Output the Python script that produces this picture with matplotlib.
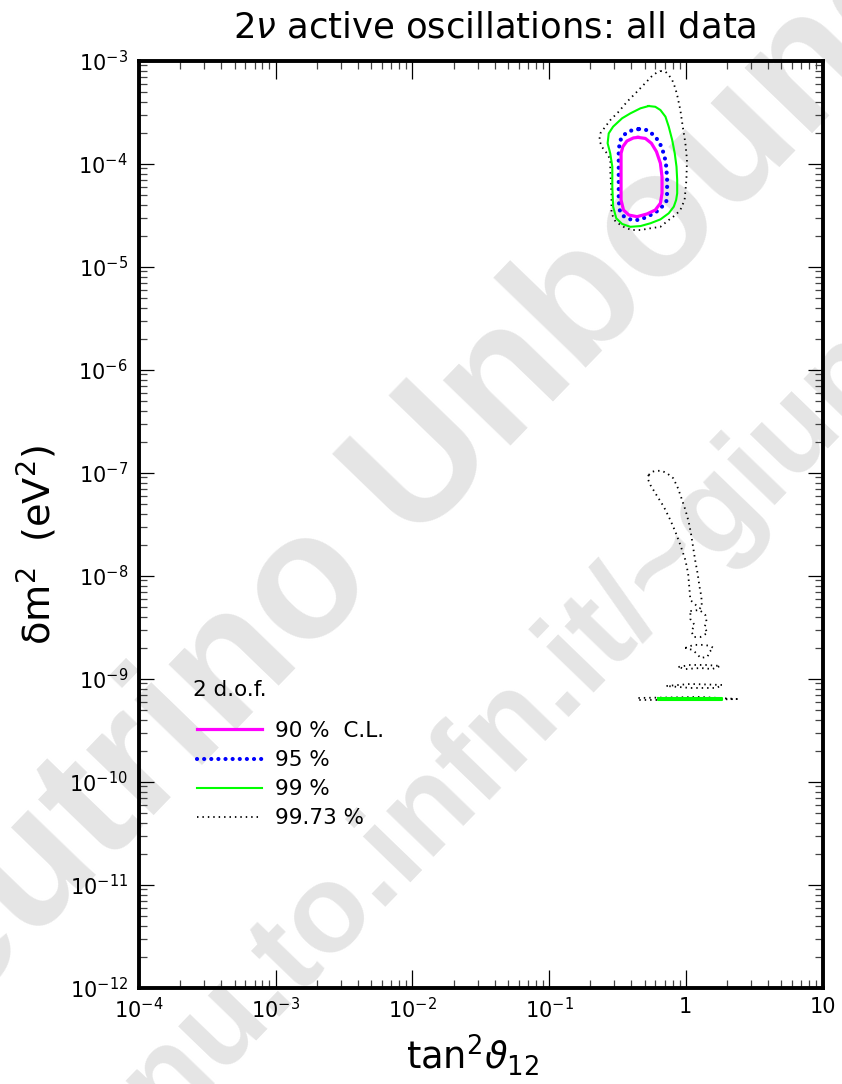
import numpy as np
import matplotlib
matplotlib.use('Agg')
import matplotlib.pyplot as plt
from matplotlib.lines import Line2D

plt.rcParams['font.family'] = ['DejaVu Sans']
plt.rcParams['mathtext.fontset'] = 'dejavusans'

# --- allowed regions in the (tan^2 theta12, delta m^2) plane ---

# 90% C.L.
tan2_90 = [0.447, 0.506, 0.56, 0.61, 0.652, 0.67, 0.67, 0.652, 0.598, 0.52,
           0.44, 0.384, 0.35, 0.336, 0.336, 0.336, 0.346, 0.371, 0.414, 0.447]
dm2_90 = [1.80e-4, 1.76e-4, 1.58e-4, 1.31e-4, 1.01e-4, 7.48e-5, 5.16e-5, 4.13e-5, 3.55e-5, 3.25e-5,
          3.06e-5, 3.17e-5, 3.55e-5, 4.45e-5, 7.5e-5, 1.26e-4, 1.46e-4, 1.66e-4, 1.78e-4, 1.80e-4]

# 95% C.L.
tan2_95 = [0.455, 0.52, 0.582, 0.637, 0.67, 0.70, 0.72, 0.73, 0.73, 0.72, 0.67, 0.61,
           0.551, 0.49, 0.44, 0.393, 0.35, 0.328, 0.323, 0.323, 0.323, 0.328, 0.35, 0.405, 0.455]
dm2_95 = [2.17e-4, 2.12e-4, 1.90e-4, 1.64e-4, 1.41e-4, 1.17e-4, 9.35e-5, 6.95e-5, 5.16e-5, 4.28e-5, 3.83e-5, 3.42e-5,
          3.17e-5, 2.95e-5, 2.84e-5, 2.88e-5, 3.10e-5, 3.55e-5, 4.45e-5, 7.48e-5, 1.26e-4, 1.64e-4, 1.90e-4, 2.12e-4, 2.17e-4]

# 99% C.L.
tan2_99 = [0.535, 0.598, 0.652, 0.71, 0.75, 0.795, 0.83, 0.855, 0.865, 0.865, 0.85, 0.817, 0.75, 0.652,
           0.551, 0.466, 0.393, 0.342, 0.31, 0.294, 0.29, 0.29, 0.28, 0.268, 0.273, 0.294, 0.342, 0.393, 0.466, 0.535]
dm2_99 = [3.63e-4, 3.57e-4, 3.32e-4, 2.86e-4, 2.29e-4, 1.70e-4, 1.26e-4, 9.35e-5, 6.95e-5, 5.16e-5, 4.45e-5, 3.83e-5, 3.30e-5, 2.88e-5,
          2.64e-5, 2.48e-5, 2.44e-5, 2.60e-5, 2.95e-5, 3.83e-5, 5.98e-5, 9.35e-5, 1.26e-4, 1.58e-4, 1.97e-4, 2.29e-4, 2.76e-4, 3.08e-4, 3.45e-4, 3.63e-4]
# 99% C.L., thin strip at low delta m^2
tan2_99_low = [0.63, 1.85, 1.85, 0.63, 0.63]
dm2_99_low = [6.5e-10, 6.5e-10, 6.22e-10, 6.22e-10, 6.5e-10]

# 99.73% C.L.: LMA region
tan2_3s_lma = [0.652, 0.71, 0.75, 0.795, 0.839, 0.87, 0.912, 0.95, 0.993, 1.02, 1.01, 0.98, 0.912, 0.839, 0.75,
               0.652, 0.551, 0.466, 0.40, 0.35, 0.306, 0.286, 0.286, 0.28, 0.281, 0.265, 0.243, 0.233, 0.237,
               0.258, 0.281, 0.323, 0.372, 0.428, 0.49, 0.56, 0.61, 0.652]
dm2_3s_lma = [7.94e-4, 7.82e-4, 7.26e-4, 6.50e-4, 5.39e-4, 4.47e-4, 3.32e-4, 2.29e-4, 1.58e-4, 1.09e-4, 6.95e-5, 4.45e-5, 3.55e-5, 3.17e-5, 2.84e-5,
              2.44e-5, 2.36e-5, 2.27e-5, 2.27e-5, 2.44e-5, 2.74e-5, 3.30e-5, 5.16e-5, 8.69e-5, 1.09e-4, 1.26e-4, 1.46e-4, 1.70e-4, 1.97e-4,
              2.29e-4, 2.66e-4, 3.2e-4, 4.0e-4, 4.82e-4, 5.81e-4, 7.0e-4, 7.64e-4, 7.94e-4]

# 99.73% C.L.: LOW region
tan2_3s_low = [0.535, 0.565, 0.61, 0.67, 0.73, 0.81, 0.877, 0.93, 0.993, 1.05, 1.09, 1.13, 1.17, 1.22, 1.26, 1.30, 1.31,
               1.28, 1.22, 1.08, 1.06, 1.04, 0.993, 0.912, 0.839, 0.771, 0.69, 0.61, 0.551, 0.525, 0.535]
dm2_3s_low = [9.50e-8, 1.02e-7, 1.045e-7, 1.04e-7, 9.86e-8, 8.83e-8, 7.06e-8, 5.64e-8, 4.35e-8, 3.34e-8, 2.58e-8, 1.91e-8, 1.42e-8, 1.05e-8, 7.82e-9, 6.25e-9, 5.0e-9,
              4.82e-9, 5.0e-9, 5.81e-9, 7.82e-9, 1.05e-8, 1.42e-8, 1.99e-8, 2.67e-8, 3.47e-8, 4.68e-8, 6.07e-8, 7.59e-8, 8.83e-8, 9.50e-8]

# 99.73% C.L.: small islands below the LOW region
tan2_3s_isl = [
    [1.08, 1.26, 1.39, 1.42, 1.37, 1.44, 1.28, 1.14, 1.10, 1.16, 1.08, 1.08],
    [0.993, 1.14, 1.35, 1.51, 1.59, 1.49, 1.44, 1.28, 1.21, 1.12, 0.993],
    [0.883, 1.08, 1.39, 1.79, 1.56, 1.28, 0.993, 0.883],
    [0.722, 1.08, 1.85, 1.67, 1.08, 0.722],
    [0.45, 1.28, 2.37, 1.28, 0.45, 0.45],
]
dm2_3s_isl = [
    [4.54e-9, 4.65e-9, 4.15e-9, 3.55e-9, 3.18e-9, 2.78e-9, 2.54e-9, 2.54e-9, 2.90e-9, 3.32e-9, 3.79e-9, 4.54e-9],
    [1.99e-9, 2.13e-9, 2.13e-9, 2.08e-9, 1.99e-9, 1.82e-9, 1.63e-9, 1.59e-9, 1.74e-9, 1.90e-9, 1.99e-9],
    [1.30e-9, 1.36e-9, 1.36e-9, 1.33e-9, 1.24e-9, 1.27e-9, 1.24e-9, 1.30e-9],
    [8.5e-10, 8.89e-10, 8.69e-10, 8.13e-10, 8.13e-10, 8.5e-10],
    [6.50e-10, 6.65e-10, 6.35e-10, 6.22e-10, 6.22e-10, 6.50e-10],
]

x_ticks = [1e-4, 1e-3, 1e-2, 1e-1, 1, 10]
x_tick_labels = [r'$10^{-4}$', r'$10^{-3}$', r'$10^{-2}$', r'$10^{-1}$', '1', '10']
y_ticks = [1e-12, 1e-11, 1e-10, 1e-9, 1e-8, 1e-7, 1e-6, 1e-5, 1e-4, 1e-3]
y_tick_labels = [r'$10^{-12}$', r'$10^{-11}$', r'$10^{-10}$', r'$10^{-9}$', r'$10^{-8}$',
                 r'$10^{-7}$', r'$10^{-6}$', r'$10^{-5}$', r'$10^{-4}$', r'$10^{-3}$']
cl_labels = ['90 %  C.L.', '95 %', '99 %', '99.73 %']

# line styles per confidence level
st90 = dict(color='#ff00ff', lw=2.3, ls='-')
st95 = dict(color='#0000ff', lw=3.0, ls=(0, (0.01, 1.7)), dash_capstyle='round')
st99 = dict(color='#00ff00', lw=1.5, ls='-')
st3s = dict(color='black', lw=1.3, ls=(0, (0.8, 2.2)))

fig = plt.figure(figsize=(8.42, 10.84), dpi=100)

# watermark behind the plot
wm = dict(color='#e5e5e5', fontweight='bold', family='Liberation Sans', rotation=46,
          rotation_mode='anchor', ha='center', va='center', zorder=-5)
fig.text(380 / 842, 1 - 515 / 1084, 'Neutrino Unbound', fontsize=128, **wm)
fig.text(425 / 842, 1 - 820 / 1084, 'www.nu.to.infn.it/~giunti', fontsize=90, **wm)

ax = fig.add_axes([139 / 842, 1 - 987.7 / 1084, 683.5 / 842, 927 / 1084])
ax.set_facecolor('none')
ax.set_xscale('log')
ax.set_yscale('log')
ax.set_xlim(1e-4, 10)
ax.set_ylim(1e-12, 1e-3)

ax.plot(tan2_3s_lma, dm2_3s_lma, **st3s)
ax.plot(tan2_3s_low, dm2_3s_low, **st3s)
for xs, ys in zip(tan2_3s_isl, dm2_3s_isl):
    ax.plot(xs, ys, **st3s)
ax.plot(tan2_99, dm2_99, **st99)
ax.plot(tan2_99_low, dm2_99_low, **st99)
ax.plot(tan2_95, dm2_95, **st95)
ax.plot(tan2_90, dm2_90, **st90)

ax.set_xticks(x_ticks)
ax.set_xticklabels(x_tick_labels)
ax.set_yticks(y_ticks)
ax.set_yticklabels(y_tick_labels)
ax.xaxis.set_minor_locator(matplotlib.ticker.LogLocator(base=10, subs=np.arange(2, 10), numticks=20))
ax.yaxis.set_minor_locator(matplotlib.ticker.LogLocator(base=10, subs=np.arange(2, 10), numticks=20))
ax.xaxis.set_minor_formatter(matplotlib.ticker.NullFormatter())
ax.yaxis.set_minor_formatter(matplotlib.ticker.NullFormatter())
ax.tick_params(which='both', direction='in', top=True, right=True, width=0.9, labelsize=15)
ax.tick_params(axis='x', which='major', length=13, pad=7)
ax.tick_params(axis='y', which='major', length=11, pad=8)
ax.tick_params(which='minor', length=5.5, color='#444444')
for sp in ax.spines.values():
    sp.set_linewidth(2.8)

# legend
ax.text((193 - 139) / 683.5, (987.7 - 690) / 927, '2 d.o.f.', transform=ax.transAxes,
        fontsize=15.5, ha='left', va='center')
handles = [Line2D([], [], **st90), Line2D([], [], **st95), Line2D([], [], **st99), Line2D([], [], **st3s)]
ax.legend(handles, cl_labels, loc='upper left',
          bbox_to_anchor=((197 - 139) / 683.5, (987.7 - 721) / 927),
          frameon=False, fontsize=15.5, handlelength=3.0, handletextpad=0.62,
          labelspacing=0.42, borderaxespad=0, borderpad=0)

fig.text(495 / 842, 1 - 28 / 1084, r'$2\nu$ active oscillations: all data', fontsize=25.5,
         ha='center', va='center')
fig.text(472 / 842, 1 - 1055 / 1084, r'tan$^2\vartheta_{12}$', fontsize=26.5, ha='center', va='center')
fig.text(37 / 842, 1 - 545 / 1084, r'$\mathrm{\delta}$m$^2$  (eV$^2$)', fontsize=27.5,
         rotation=90, ha='center', va='center')

fig.savefig('out.png', dpi=100)
